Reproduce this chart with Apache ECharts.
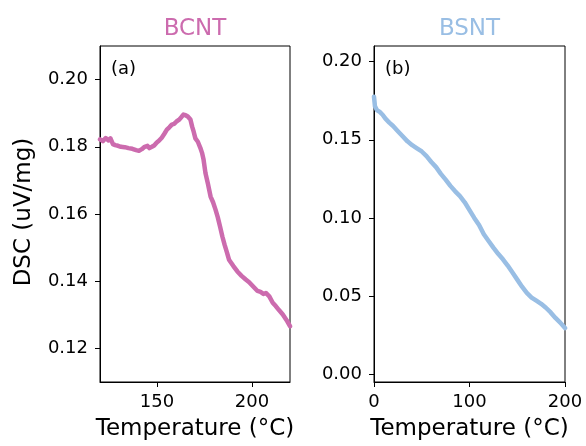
<!DOCTYPE html>
<html>
<head>
<meta charset="utf-8">
<script src="https://cdn.jsdelivr.net/npm/echarts@6/dist/echarts.min.js"></script>
<style>
html,body{margin:0;padding:0;background:#fff;}
#chart{width:586px;height:446px;}
</style>
</head>
<body>
<div id="chart"></div>
<script>
// BCNT: temperature (°C) and DSC (uV/mg)
const bcntT = [120,121.5,123,124.5,125.5,126.8,128,129.5,131,133,135,137,139,140.5,142,143.5,145,146,147.3,148.5,149.9,151,152.5,153.8,155.2,156.5,157.8,159,160.4,161.5,162.8,163.9,165,166.2,167.6,168.5,169.3,170.2,171.5,172.8,173.7,174.5,175.5,176.8,178.2,179.5,180.8,182,183.3,184.4,185.6,186.8,187.9,189,190.2,192.3,194.5,196.7,198.5,200.5,202.9,204.5,206,207.3,208.2,209.1,210.9,212.5,214.2,216.2,218.2,220];
const bcntY = [0.1822,0.1817,0.1826,0.1819,0.1825,0.1808,0.1805,0.1803,0.1800,0.1799,0.1796,0.1794,0.1790,0.1788,0.1793,0.1800,0.1803,0.1796,0.1800,0.1804,0.1813,0.1818,0.1827,0.1838,0.1851,0.1858,0.1866,0.1868,0.1876,0.1880,0.1888,0.1896,0.1894,0.1890,0.1881,0.1860,0.1845,0.1825,0.1815,0.1797,0.1782,0.1762,0.1722,0.1690,0.1652,0.1635,0.1613,0.1590,0.1560,0.1533,0.1508,0.1486,0.1464,0.1455,0.1445,0.1429,0.1416,0.1405,0.1397,0.1385,0.1371,0.1368,0.1362,0.1365,0.1360,0.1355,0.1336,0.1326,0.1314,0.1301,0.1284,0.1266];
// BSNT: temperature (°C) and DSC (uV/mg)
const bsntT = [0,1,3,6,9,12,16,20,25,30,35,40,45,50,55,60,65,70,75,80,85,90,95,100,105,110,115,120,125,130,135,140,145,150,155,160,165,170,175,180,185,190,195,200];
const bsntY = [0.1775,0.1715,0.1690,0.1678,0.1660,0.1635,0.1610,0.1588,0.1555,0.1522,0.1490,0.1465,0.1445,0.1425,0.1395,0.1358,0.1325,0.1282,0.1245,0.1205,0.1170,0.1140,0.1100,0.1050,0.1000,0.0955,0.0895,0.0852,0.0810,0.0770,0.0735,0.0695,0.0650,0.0605,0.0560,0.0520,0.0490,0.0470,0.0450,0.0425,0.0395,0.0360,0.0330,0.0295];
// Tick labels
const bcntXTicks = [150,200];
const bcntYTicks = [0.12,0.14,0.16,0.18,0.20];
const bsntXTicks = [0,100,200];
const bsntYTicks = [0,0.05,0.10,0.15,0.20];
const titles = ['BCNT','BSNT'];
const panelLabels = ['(a)','(b)'];
const xName = 'Temperature (°C)';
const yName = 'DSC (uV/mg)';

const PINK = '#CC6BAE';
const BLUE = '#99BEE4';
const FONT = 'DejaVu Sans';

const chart = echarts.init(document.getElementById('chart'));

function xAxisCfg(gi, min, max, ticks) {
  return {
    type:'value', gridIndex:gi, min:min, max:max,
    axisLine:{show:true, onZero:false, lineStyle:{color:'#000', width:1}},
    axisTick:{show:true, inside:false, length:5, lineStyle:{color:'#000', width:1}, customValues:ticks},
    axisLabel:{show:true, margin:11, color:'#000', fontFamily:FONT, fontSize:18, customValues:ticks, formatter:v=>String(v)},
    splitLine:{show:false}
  };
}
function yAxisCfg(gi, min, max, ticks) {
  return {
    type:'value', gridIndex:gi, min:min, max:max,
    axisLine:{show:true, onZero:false, lineStyle:{color:'#000', width:1}},
    axisTick:{show:true, inside:false, length:5, lineStyle:{color:'#000', width:1}, customValues:ticks},
    axisLabel:{show:true, margin:12, color:'#000', fontFamily:FONT, fontSize:18, customValues:ticks, formatter:v=>v.toFixed(2)},
    splitLine:{show:false}
  };
}

const option = {
  animation:false,
  backgroundColor:'#fff',
  grid:[
    {left:100, top:46, width:190, height:336, show:true, borderColor:'#000', borderWidth:1, backgroundColor:'transparent'},
    {left:374, top:46, width:191, height:336, show:true, borderColor:'#000', borderWidth:1, backgroundColor:'transparent'}
  ],
  xAxis:[xAxisCfg(0,120,220,bcntXTicks), xAxisCfg(1,0,200,bsntXTicks)],
  yAxis:[yAxisCfg(0,0.11,0.21,bcntYTicks), yAxisCfg(1,-0.005,0.21,bsntYTicks)],
  series:[
    {type:'line', xAxisIndex:0, yAxisIndex:0, data:bcntT.map((t,i)=>[t,bcntY[i]]), showSymbol:false, clip:true,
     lineStyle:{color:PINK, width:4.5, join:'round', cap:'round'}},
    {type:'line', xAxisIndex:1, yAxisIndex:1, data:bsntT.map((t,i)=>[t,bsntY[i]]), showSymbol:false, clip:true,
     lineStyle:{color:BLUE, width:4.5, join:'round', cap:'round'}}
  ],
  graphic:[
    {type:'text', x:195, y:29, style:{text:titles[0], fill:PINK, font:'23px "DejaVu Sans"', align:'center', verticalAlign:'middle'}},
    {type:'text', x:469.5, y:29, style:{text:titles[1], fill:BLUE, font:'23px "DejaVu Sans"', align:'center', verticalAlign:'middle'}},
    {type:'text', x:111, y:69, style:{text:panelLabels[0], fill:'#000', font:'18px "DejaVu Sans"', align:'left', verticalAlign:'middle'}},
    {type:'text', x:385, y:69, style:{text:panelLabels[1], fill:'#000', font:'18px "DejaVu Sans"', align:'left', verticalAlign:'middle'}},
    {type:'text', x:195, y:429, style:{text:xName, fill:'#000', font:'23px "DejaVu Sans"', align:'center', verticalAlign:'middle'}},
    {type:'text', x:469.5, y:429, style:{text:xName, fill:'#000', font:'23px "DejaVu Sans"', align:'center', verticalAlign:'middle'}},
    {type:'text', x:24, y:212, rotation:Math.PI/2, style:{text:yName, fill:'#000', font:'23px "DejaVu Sans"', align:'center', verticalAlign:'middle'}}
  ]
};
chart.setOption(option);
</script>
</body>
</html>
